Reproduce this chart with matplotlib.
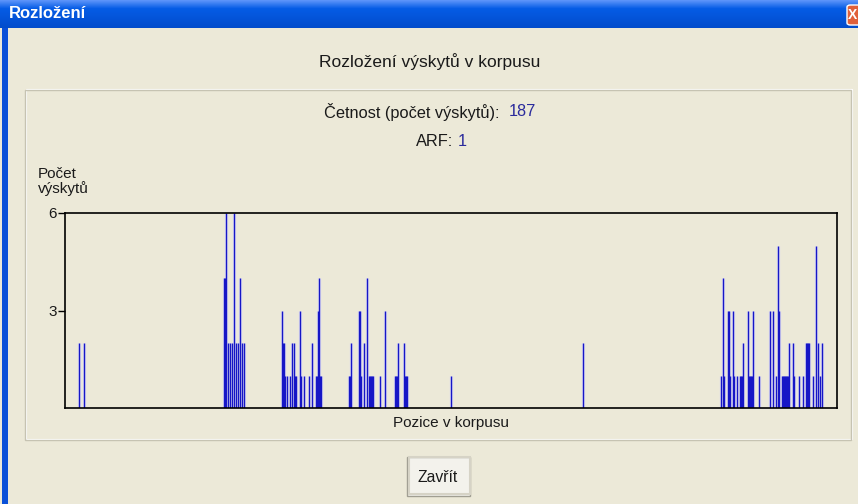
import numpy as np
import matplotlib.pyplot as plt
from matplotlib.patches import Rectangle, FancyBboxPatch

W, H = 858, 504

# corpus positions (bins) and occurrence counts
positions = [14, 19,
             159, 160, 161, 163, 165, 167, 169, 171, 173, 175, 177, 179,
             217, 218, 219, 220, 222, 225, 227, 229, 230, 231, 235, 236, 239, 244,
             247, 251, 252, 253, 254, 255, 256,
             284, 285, 286, 294, 295, 296, 299, 302, 304, 305, 306, 307, 308, 315,
             320, 330, 331, 332, 333, 339, 340, 341, 342,
             386, 518,
             656, 658, 659, 663, 664, 665, 668, 669, 672, 675, 676, 677, 678,
             683, 684, 685, 686, 687, 688, 694, 705, 708, 711, 713, 714,
             717, 718, 719, 720, 721, 722, 723, 724, 728, 729, 734, 738,
             741, 742, 743, 744, 748, 751, 753, 755, 757]
counts = [2, 2,
          4, 4, 6, 2, 2, 2, 6, 2, 2, 4, 2, 2,
          3, 2, 2, 1, 1, 1, 2, 2, 1, 1, 3, 1, 1, 1,
          2, 1, 1, 3, 4, 1, 1,
          1, 1, 2, 3, 3, 1, 2, 4, 1, 1, 1, 1, 1, 1,
          3, 1, 1, 1, 2, 2, 1, 1, 1,
          1, 2,
          1, 4, 1, 3, 3, 1, 3, 1, 1, 1, 1, 1, 2,
          3, 1, 1, 1, 1, 3, 1, 3, 3, 1, 5, 3,
          1, 1, 1, 1, 1, 1, 1, 2, 2, 1, 1, 1,
          2, 2, 2, 2, 1, 5, 2, 1, 2]
x_range = [0, 772]
y_max = 6
y_ticks = [3, 6]

dialog_title = "Rozložení"
chart_title = "Rozložení výskytů v korpusu"
freq_label = "Četnost (počet výskytů):"
freq_value = 187
arf_label = "ARF:"
arf_value = 1
y_label = "Počet\nvýskytů"
x_label = "Pozice v korpusu"
button_label = "Zavřít"

plt.rcParams['font.family'] = ['Liberation Sans', 'DejaVu Sans']

bg = '#ECE9D8'
blue_txt = '#2B2B9C'
txt = '#1A1A1A'


def fx(px):
    return px / W


def fy(py):
    return 1 - py / H


fig = plt.figure(figsize=(W / 100, H / 100), dpi=100, facecolor=bg)

# window title bar
tb = fig.add_axes([0, fy(28), 1, 28 / H])
top = np.array([0.36, 0.58, 0.98])
mid = np.array([0.02, 0.36, 0.90])
bot = np.array([0.01, 0.30, 0.80])
t = np.linspace(0, 1, 28)[:, None]
grad = np.where(t < 0.3, top + (mid - top) * (t / 0.3), mid + (bot - mid) * ((t - 0.3) / 0.7))
tb.imshow(grad[:, None, :], aspect='auto', extent=[0, 1, 0, 1])
tb.set_axis_off()
fig.text(fx(9), fy(14), dialog_title, color='white', fontsize=12, fontweight='bold',
         ha='left', va='center')

# close button (cut at the right edge)
fig.patches.append(FancyBboxPatch((fx(847), fy(25)), fx(24), 20 / H,
                                  boxstyle='round,pad=0,rounding_size=0.004',
                                  transform=fig.transFigure, facecolor='#E0603A',
                                  edgecolor='white', lw=1.0))
fig.text(fx(853), fy(15), 'X', color='white', fontsize=10, fontweight='bold',
         ha='center', va='center')

# left window border
fig.patches.append(Rectangle((fx(2), 0), fx(6), fy(28), transform=fig.transFigure,
                             facecolor='#0A50D8', edgecolor='none'))

# group box (etched)
fig.patches.append(Rectangle((fx(25), fy(440)), fx(826), (440 - 90) / H,
                             transform=fig.transFigure, facecolor='none',
                             edgecolor='#C6C3B2', lw=1.0))
fig.patches.append(Rectangle((fx(26), fy(439)), fx(826), (440 - 90) / H,
                             transform=fig.transFigure, facecolor='none',
                             edgecolor='white', lw=0.8, zorder=0))

fig.text(fx(430), fy(62), chart_title, ha='center', va='center', fontsize=12.5, color=txt)
fig.text(fx(500), fy(112), freq_label, ha='right', va='center', fontsize=11.8, color=txt)
fig.text(fx(509), fy(112), str(freq_value), ha='left', va='center', fontsize=11.8,
         color=blue_txt)
fig.text(fx(453), fy(141), arf_label, ha='right', va='center', fontsize=11.8, color=txt)
fig.text(fx(458), fy(141), str(arf_value), ha='left', va='center', fontsize=11.8,
         color=blue_txt)
fig.text(fx(38), fy(167), y_label, ha='left', va='top', fontsize=11, linespacing=1.0,
         color=txt)

# chart
ax = fig.add_axes([fx(65), fy(408), fx(837) - fx(65), (408 - 213) / H])
ax.set_facecolor(bg)
ax.vlines(positions, 0, counts, colors='#DCDBF0', lw=2.4, zorder=1)
ax.vlines(positions, 0, counts, colors='#1616C6', lw=1.0, zorder=2)
ax.set_xlim(x_range)
ax.set_ylim(0, y_max)
ax.set_xticks([])
ax.set_yticks(y_ticks)
ax.tick_params(axis='y', direction='out', length=5, width=1, pad=1, labelsize=11,
               labelcolor=txt)
for s in ax.spines.values():
    s.set_color('black')
    s.set_linewidth(1.2)
    s.set_zorder(3)

fig.text(fx(451), fy(423), x_label, ha='center', va='center', fontsize=11, color=txt)

# close button at the bottom
fig.patches.append(Rectangle((fx(407), fy(496)), fx(63), (496 - 457) / H,
                             transform=fig.transFigure, facecolor='#F3F2EC',
                             edgecolor='#A09E92', lw=1.0))
fig.patches.append(Rectangle((fx(409), fy(494)), fx(61), (494 - 457) / H,
                             transform=fig.transFigure, facecolor='none',
                             edgecolor='#D6D3C6', lw=1.5))
fig.text(fx(438), fy(477), button_label, ha='center', va='center', fontsize=11.3,
         color=txt)

fig.savefig('out.png', dpi=100, facecolor=bg)
